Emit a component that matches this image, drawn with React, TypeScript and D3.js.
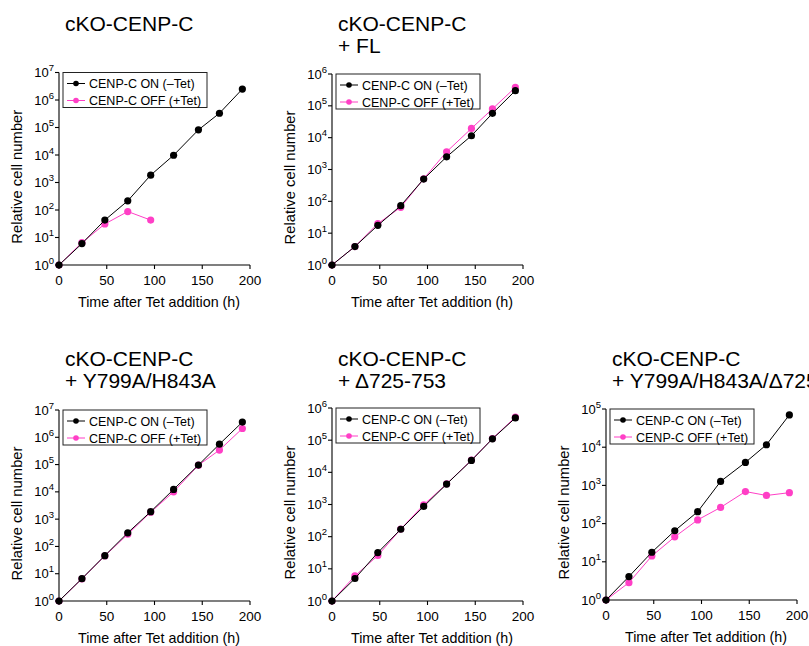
import React from 'react';
import * as d3 from 'd3';

// sampling times (h)
const hours = [0, 24, 48, 72, 96, 120, 146, 168, 192];
const xTicks = [0, 50, 100, 150, 200];

const legendLabels = ['CENP-C ON (\u2013Tet)', 'CENP-C OFF (+Tet)'];

// cKO-CENP-C
const cko_on = [1, 6, 43, 215, 1850, 9800, 82000, 330000, 2500000];
const cko_off = [1, 6.5, 31, 88, 43];

// + FL
const fl_on = [1, 3.8, 17.6, 73, 500, 2500, 11500, 58000, 300000];
const fl_off = [1, 3.8, 20, 65, 510, 3600, 19500, 80000, 380000];

// + Y799A/H843A
const yh_on = [1, 6.6, 46, 315, 1880, 12300, 96000, 560000, 3600000];
const yh_off = [1, 6.5, 45, 280, 1800, 10000, 95000, 340000, 2100000];

// + Δ725-753
const del_on = [1, 5, 32, 170, 870, 4300, 23500, 110000, 490000];
const del_off = [1, 6, 26, 172, 980, 4350, 24000, 112000, 520000];

// + Y799A/H843A/Δ725-753
const triple_on = [1, 4.1, 17.8, 65, 205, 1270, 4000, 11600, 70000];
const triple_off = [1, 2.85, 14.2, 45, 125, 265, 690, 545, 645];

const BLACK = '#000000';
const PINK = '#ff3fc6';
const FONT = '"Liberation Sans", Arial, Helvetica, sans-serif';

interface PanelProps {
  title: string[];
  x0: number;
  top: number;
  bottom: number;
  maxExp: number;
  titleY: number;
  on: number[];
  off: number[];
}

const PLOT_W = 191;

const Panel = ({ title, x0, top, bottom, maxExp, titleY, on, off }: PanelProps) => {
  const x = d3.scaleLinear().domain([0, 200]).range([x0, x0 + PLOT_W]);
  const y = d3.scaleLog().domain([1, Math.pow(10, maxExp)]).range([bottom, top]);
  const exps = d3.range(0, maxExp + 1);
  const line = d3.line<number>()
    .x((d, i) => x(hours[i]))
    .y(d => y(d));

  const series = [
    { values: off, color: PINK },
    { values: on, color: BLACK },
  ];

  const lx = x0 + 4;
  const ly = top;

  return (
    <g>
      {title.map((t, i) => (
        <text key={i} x={x0 + 6} y={titleY + i * 22} fontSize={21} fill="#000">{t}</text>
      ))}

      {/* data: pink first, black on top */}
      {series.map((s, k) => (
        <g key={k}>
          <path d={line(s.values) || ''} fill="none" stroke={s.color} strokeWidth={1} />
          {s.values.map((v, i) => (
            <circle key={i} cx={x(hours[i])} cy={y(v)} r={3.6} fill={s.color} />
          ))}
        </g>
      ))}

      {/* y axis */}
      <line x1={x0} x2={x0} y1={top} y2={bottom} stroke="#000" strokeWidth={1.1} />
      {exps.map(e => (
        <g key={e}>
          <line x1={x0 - 4} x2={x0} y1={y(Math.pow(10, e))} y2={y(Math.pow(10, e))} stroke="#000" strokeWidth={1.1} />
          <text x={x0 - 5} y={y(Math.pow(10, e)) + 4.5} fontSize={13} textAnchor="end" fill="#000">
            10<tspan dy={-6} fontSize={9.5}>{e}</tspan>
          </text>
        </g>
      ))}

      {/* x axis */}
      <line x1={x0} x2={x0 + PLOT_W} y1={bottom} y2={bottom} stroke="#000" strokeWidth={1.1} />
      {xTicks.map(t => (
        <g key={t}>
          <line x1={x(t)} x2={x(t)} y1={bottom} y2={bottom + 4} stroke="#000" strokeWidth={1.1} />
          <text x={x(t)} y={bottom + 20} fontSize={13.5} textAnchor="middle" fill="#000">{t}</text>
        </g>
      ))}

      <text x={x0 + 100} y={bottom + 42} fontSize={14.3} textAnchor="middle" fill="#000">Time after Tet addition (h)</text>
      <text transform={`translate(${x0 - 37},${(top + bottom) / 2 + 8}) rotate(-90)`} fontSize={14.8} textAnchor="middle" fill="#000">Relative cell number</text>

      {/* legend */}
      <rect x={lx} y={ly} width={144} height={35} fill="#fff" stroke="#222" strokeWidth={1} />
      {legendLabels.map((lab, i) => {
        const c = i === 0 ? BLACK : PINK;
        const cy = ly + 11 + i * 17;
        return (
          <g key={i}>
            <line x1={lx + 4} x2={lx + 22} y1={cy} y2={cy} stroke={c} strokeWidth={1} />
            <circle cx={lx + 13} cy={cy} r={2.8} fill={c} />
            <text x={lx + 26} y={cy + 4.5} fontSize={12.5} fill="#000">{lab}</text>
          </g>
        );
      })}
    </g>
  );
};

const App = () => {
  return (
    <svg width={809} height={646} style={{ position: 'absolute', left: 0, top: 0, background: '#fff', fontFamily: FONT }}>
      <rect width={809} height={646} fill="#fff" />
      <Panel title={['cKO-CENP-C']} x0={59} top={72.5} bottom={265} maxExp={7} titleY={31} on={cko_on} off={cko_off} />
      <Panel title={['cKO-CENP-C', '+ FL']} x0={332} top={74} bottom={265} maxExp={6} titleY={31} on={fl_on} off={fl_off} />
      <Panel title={['cKO-CENP-C', '+ Y799A/H843A']} x0={59} top={410} bottom={601} maxExp={7} titleY={366} on={yh_on} off={yh_off} />
      <Panel title={['cKO-CENP-C', '+ \u0394725-753']} x0={332} top={408} bottom={601} maxExp={6} titleY={366} on={del_on} off={del_off} />
      <Panel title={['cKO-CENP-C', '+ Y799A/H843A/\u0394725-753']} x0={606} top={409} bottom={600} maxExp={5} titleY={366} on={triple_on} off={triple_off} />
    </svg>
  );
};

export default App;
